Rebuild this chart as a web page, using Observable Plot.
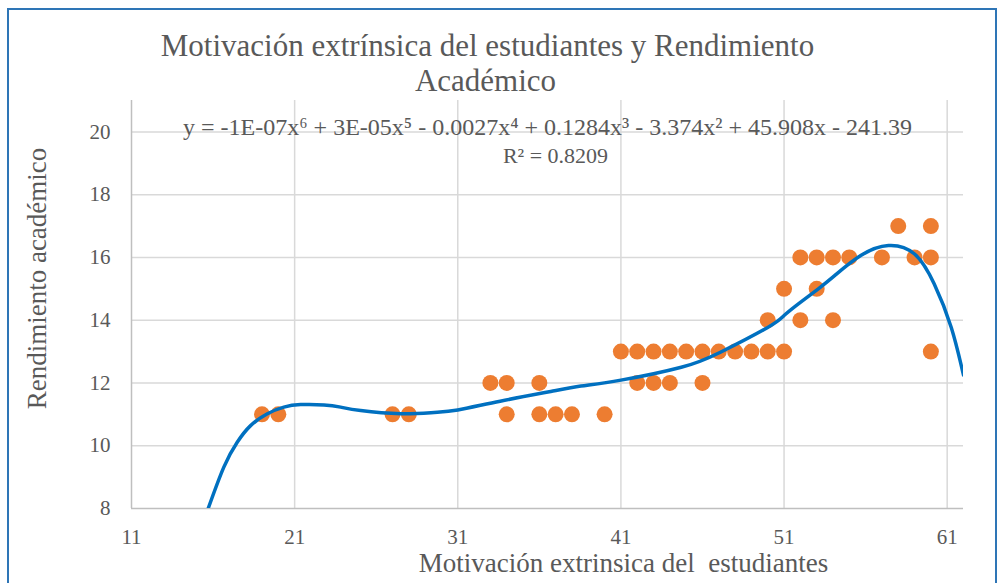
<!DOCTYPE html>
<html><head><meta charset="utf-8">
<script src="https://cdn.jsdelivr.net/npm/d3@7"></script>
<script src="https://cdn.jsdelivr.net/npm/@observablehq/plot@0.6"></script>
<style>
body{margin:0;background:#fff;}
#wrap{position:relative;width:1001px;height:583px;overflow:hidden;}
#frame{position:absolute;left:7px;top:8px;width:990px;height:600px;border:2px solid #2E75B6;box-sizing:border-box;pointer-events:none;}
#chart{position:absolute;left:0;top:0;}
#chart svg text{font-family:"Liberation Serif","Times New Roman",serif;}
</style></head><body>
<div id="wrap"><div id="chart"></div><div id="frame"></div></div>
<script>
// Scatter data (Motivación extrínsica, Rendimiento académico)
const motivacion = [19,20,27,28,33,34,36,34,36,37,38,40,
  41,42,43,44,45,46,47,48,49,50,51,42,43,44,46,
  50,52,54,51,53,52,53,54,55,57,59,60,58,60,60];
const rendimiento = [11,11,11,11,12,12,12,11,11,11,11,11,
  13,13,13,13,13,13,13,13,13,13,13,12,12,12,12,
  14,14,14,15,15,16,16,16,16,16,16,16,17,17,13];
// Trendline (polynomial, order 6)
const trendX = [15.7,16.66,17.48,18.3,19.33,20.34,21.37,22.8,23.82,25.05,27.5,29.55,31.0,33.6,36.7,
  38.55,41.0,44.7,47.1,50.0,51.0,52.0,53.1,54.1,55.7,57.4,59.0,60.2,61.25,62.0];
const trendY = [8.0,9.32,10.11,10.64,11.02,11.23,11.31,11.3,11.23,11.12,11.02,11.06,11.14,11.42,11.73,
  11.9,12.09,12.5,12.98,13.77,14.15,14.57,15.0,15.42,16.06,16.38,16.11,15.16,13.77,12.25];
const xTicks = [11,21,31,41,51,61];
const yTicks = [8,10,12,14,16,18,20];
const title1 = "Motivación extrínsica del estudiantes y Rendimiento";
const title2 = "Académico";
const equation = "y = -1E-07x⁶ + 3E-05x⁵ - 0.0027x⁴ + 0.1284x³ - 3.374x² + 45.908x - 241.39";
const r2 = "R² = 0.8209";
const xTitle = "Motivación extrinsica del  estudiantes";
const yTitle = "Rendimiento académico";

const points = motivacion.map((x, i) => ({x, y: rendimiento[i]}));
const trend = trendX.map((x, i) => ({x, y: trendY[i]}));
const gray = "#595959";

const chart = Plot.plot({
  width: 1001, height: 583,
  marginLeft: 131, marginRight: 38, marginTop: 100, marginBottom: 75,
  x: {domain: [11, 62], axis: null},
  y: {domain: [8, 21], axis: null},
  style: {background: "transparent"},
  marks: [
    Plot.ruleY(yTicks.slice(1), {y: d => d, stroke: "#d9d9d9", strokeWidth: 1.5}),
    Plot.ruleX(xTicks.slice(1), {x: d => d, stroke: "#d9d9d9", strokeWidth: 1.5}),
    Plot.ruleX([11], {x: d => d, stroke: "#bfbfbf", strokeWidth: 1.5}),
    Plot.ruleY([8], {y: d => d, stroke: "#bfbfbf", strokeWidth: 1.5}),
    Plot.text(xTicks, {x: d => d, frameAnchor: "bottom", lineAnchor: "middle", dy: 29, text: d => String(d), fontSize: 21, fill: gray}),
    Plot.text(yTicks, {y: d => d, frameAnchor: "left", lineAnchor: "middle", dx: -21, textAnchor: "end", text: d => String(d), fontSize: 21, fill: gray}),
    Plot.dot(points, {x: "x", y: "y", r: 8, fill: "#ED7D31", stroke: "none"}),
    Plot.line(trend, {x: "x", y: "y", stroke: "#0070C0", strokeWidth: 3.5, curve: "natural", clip: true}),
    Plot.text([equation], {frameAnchor: "top", lineAnchor: "middle", textAnchor: "middle", dy: 27, text: d => d, fontSize: 24, fill: gray}),
    Plot.text([r2], {frameAnchor: "top", lineAnchor: "middle", textAnchor: "middle", dx: 8, dy: 55, text: d => d, fontSize: 22, fill: gray}),
    Plot.text([title1], {frameAnchor: "top", lineAnchor: "middle", textAnchor: "middle", dx: -60, dy: -54, text: d => d, fontSize: 31, fill: gray}),
    Plot.text([title2], {frameAnchor: "top", lineAnchor: "middle", textAnchor: "middle", dx: -62, dy: -19, text: d => d, fontSize: 31, fill: gray}),
    Plot.text([xTitle], {frameAnchor: "bottom", lineAnchor: "middle", textAnchor: "middle", dx: 76, dy: 55, text: d => d, fontSize: 27, fill: gray}),
    Plot.text([yTitle], {frameAnchor: "left", lineAnchor: "middle", textAnchor: "middle", dx: -94, dy: -26, rotate: -90, text: d => d, fontSize: 27, fill: gray})
  ]
});
document.getElementById("chart").appendChild(chart);
</script>
</body></html>
